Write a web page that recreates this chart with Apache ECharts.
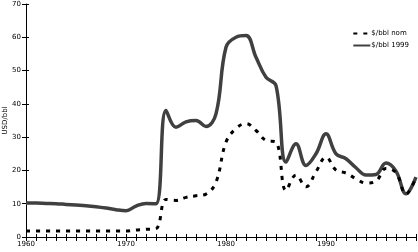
<!DOCTYPE html>
<html><head><meta charset="utf-8">
<script src="https://cdn.jsdelivr.net/npm/echarts@6/dist/echarts.min.js"></script>
<style>html,body{margin:0;padding:0;background:#fff}#c{width:418px;height:252px}</style>
</head><body><div id="c"></div>
<script>
const years = [1960,1961,1962,1963,1964,1965,1966,1967,1968,1969,1970,1971,1972,1973,1974,1975,1976,1977,1978,1979,1980,1981,1982,1983,1984,1985,1986,1987,1988,1989,1990,1991,1992,1993,1994,1995,1996,1997,1998,1999];
const nominal = [1.8,1.8,1.8,1.8,1.8,1.8,1.8,1.8,1.8,1.8,1.8,2.1,2.3,2.5,11.3,11.0,11.9,12.4,12.9,16.5,28.5,32.6,34.1,32.0,29.0,28.5,14.0,18.6,15.1,19.6,24.0,20.1,19.2,17.5,16.2,16.8,20.6,19.3,12.9,18.0];
const real1999 = [10.2,10.2,10.1,10.0,9.8,9.6,9.4,9.1,8.7,8.2,7.9,9.3,10.1,10.0,38.0,33.0,34.6,35.0,33.2,37.0,57.0,60.0,60.5,54.0,48.0,45.5,22.5,28.0,21.5,25.0,31.0,25.0,23.5,20.8,18.6,18.8,22.2,19.8,13.0,18.0];
const seriesNames = ['$/bbl nom','$/bbl 1999'];
const yTicks = [0,10,20,30,40,50,60,70];

const font = 'DejaVu Sans';
const chart = echarts.init(document.getElementById('c'));
chart.setOption({
  animation: false,
  backgroundColor: '#fff',
  grid: {left: 26, right: 2, top: 4, bottom: 15, containLabel: false, outerBoundsMode: 'none'},
  legend: {
    right: 4, top: 25, orient: 'vertical', itemWidth: 17, itemHeight: 6, itemGap: 5,
    itemStyle: {opacity: 0},
    textStyle: {fontFamily: font, fontSize: 7, color: '#000', padding: [0,0,0,-4]},
    data: seriesNames
  },
  xAxis: [{
    type: 'value', min: 1960, max: 1999, interval: 1,
    axisLine: {show: true, lineStyle: {color: '#000', width: 1}},
    axisTick: {show: true, alignWithLabel: true, length: 4, lineStyle: {color: '#000', width: 1, opacity: 1}},
    axisLabel: {fontFamily: font, fontSize: 7, color: '#000', margin: 4,
      formatter: v => (v % 10 === 0 ? String(v) : '')},
    splitLine: {show: false}
  },{
    type: 'value', min: 1960, max: 1999, interval: 1, position: 'bottom',
    axisLine: {show: false},
    axisTick: {show: true, inside: true, length: 3, lineStyle: {color: '#000', width: 1, opacity: 1}},
    axisLabel: {show: false}, splitLine: {show: false}
  }],
  yAxis: [{
    type: 'value', min: yTicks[0], max: yTicks[yTicks.length-1], interval: 10,
    name: 'USD/bbl', nameLocation: 'middle', nameGap: 17, nameMoveOverlap: false,
    nameTextStyle: {fontFamily: font, fontSize: 7, color: '#000'},
    axisLine: {show: true, lineStyle: {color: '#000', width: 1}},
    axisTick: {show: true, length: 4, lineStyle: {color: '#000', width: 1, opacity: 1}},
    axisLabel: {fontFamily: font, fontSize: 7, color: '#000', margin: 5},
    splitLine: {show: false}
  },{
    type: 'value', min: 0, max: 70, interval: 10, position: 'left',
    axisLine: {show: false},
    axisTick: {show: true, inside: true, length: 3, lineStyle: {color: '#000', width: 1, opacity: 1}},
    axisLabel: {show: false}, splitLine: {show: false}
  }],
  series: [{
    name: seriesNames[0], type: 'line', smooth: 0.4, symbol: 'none',
    data: years.map((y,i) => [y, nominal[i]]),
    lineStyle: {color: '#000', width: 3, type: [4,6]},
    itemStyle: {color: '#000'}, z: 3
  },{
    name: seriesNames[1], type: 'line', smooth: 0.4, symbol: 'none',
    data: years.map((y,i) => [y, real1999[i]]),
    lineStyle: {color: '#404040', width: 3.5},
    itemStyle: {color: '#404040'}, z: 2
  }]
});
</script></body></html>
